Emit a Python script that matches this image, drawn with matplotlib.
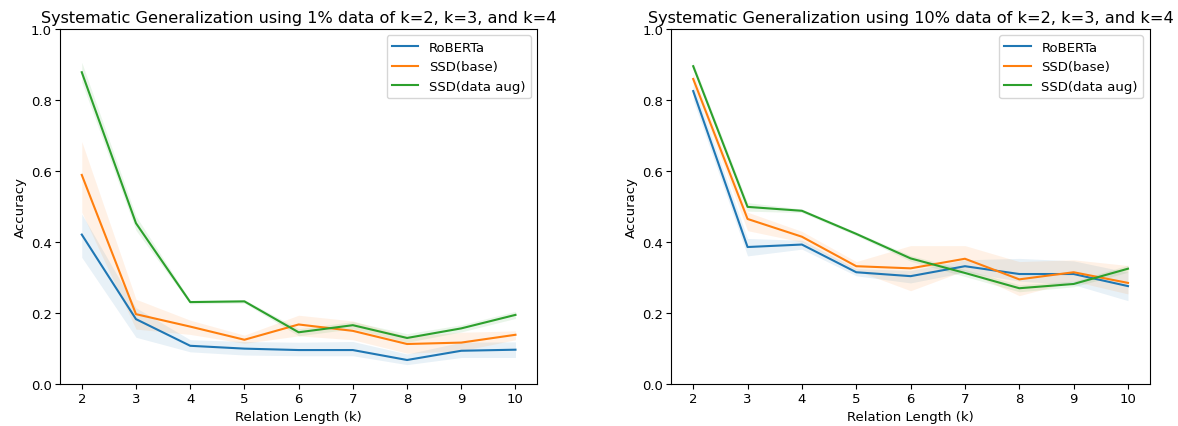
import numpy as np
import matplotlib
matplotlib.use('Agg')
import matplotlib.pyplot as plt

# Длина отношения (k)
k_values = [2, 3, 4, 5, 6, 7, 8, 9, 10]
model_names = ['RoBERTa', 'SSD(base)', 'SSD(data aug)']
colors = ['#1f77b4', '#ff7f0e', '#2ca02c']

titles = ['Systematic Generalization using 1% data of k=2, k=3, and k=4',
          'Systematic Generalization using 10% data of k=2, k=3, and k=4']

# 1% данных: среднее, нижняя и верхняя граница
roberta_1 = [0.421, 0.183, 0.108, 0.100, 0.096, 0.096, 0.068, 0.094, 0.097]
roberta_1_lo = [0.357, 0.132, 0.091, 0.082, 0.080, 0.080, 0.055, 0.075, 0.075]
roberta_1_hi = [0.479, 0.215, 0.125, 0.120, 0.118, 0.120, 0.085, 0.118, 0.119]

base_1 = [0.589, 0.197, 0.162, 0.125, 0.168, 0.150, 0.113, 0.117, 0.139]
base_1_lo = [0.484, 0.155, 0.140, 0.115, 0.136, 0.125, 0.087, 0.094, 0.125]
base_1_hi = [0.683, 0.239, 0.180, 0.138, 0.194, 0.178, 0.135, 0.146, 0.150]

aug_1 = [0.878, 0.453, 0.231, 0.233, 0.146, 0.166, 0.130, 0.157, 0.195]
aug_1_lo = [0.850, 0.433, 0.226, 0.228, 0.136, 0.156, 0.118, 0.147, 0.185]
aug_1_hi = [0.906, 0.473, 0.236, 0.238, 0.156, 0.176, 0.142, 0.167, 0.205]

# 10% данных
roberta_10 = [0.825, 0.386, 0.393, 0.315, 0.304, 0.332, 0.310, 0.310, 0.276]
roberta_10_lo = [0.800, 0.361, 0.380, 0.305, 0.285, 0.315, 0.290, 0.280, 0.235]
roberta_10_hi = [0.845, 0.410, 0.405, 0.325, 0.320, 0.350, 0.354, 0.347, 0.315]

base_10 = [0.859, 0.465, 0.415, 0.332, 0.326, 0.353, 0.295, 0.315, 0.285]
base_10_lo = [0.845, 0.432, 0.400, 0.320, 0.263, 0.320, 0.249, 0.290, 0.254]
base_10_hi = [0.875, 0.484, 0.430, 0.345, 0.390, 0.390, 0.345, 0.350, 0.334]

aug_10 = [0.895, 0.499, 0.488, 0.423, 0.354, 0.313, 0.270, 0.282, 0.325]
aug_10_lo = [0.885, 0.487, 0.483, 0.418, 0.346, 0.303, 0.260, 0.274, 0.315]
aug_10_hi = [0.905, 0.511, 0.493, 0.428, 0.362, 0.323, 0.280, 0.290, 0.335]

panels = [
    [(roberta_1, roberta_1_lo, roberta_1_hi),
     (base_1, base_1_lo, base_1_hi),
     (aug_1, aug_1_lo, aug_1_hi)],
    [(roberta_10, roberta_10_lo, roberta_10_hi),
     (base_10, base_10_lo, base_10_hi),
     (aug_10, aug_10_lo, aug_10_hi)],
]

fig = plt.figure(figsize=(11.78, 4.27), dpi=100)
axes = [fig.add_axes([0.051, 0.098, 0.405, 0.832]),
        fig.add_axes([0.570, 0.098, 0.406, 0.832])]

for ax, series, title in zip(axes, panels, titles):
    for (mean, lo, hi), name, c in zip(series, model_names, colors):
        ax.fill_between(k_values, lo, hi, color=c, alpha=0.1, linewidth=0)
        ax.plot(k_values, mean, color=c, label=name, linewidth=1.5)
    ax.set_ylim(0, 1.0)
    ax.set_xticks(k_values)
    ax.tick_params(labelsize=9.5, pad=2.5)
    ax.set_xlabel('Relation Length (k)', fontsize=9.5, labelpad=3)
    ax.set_ylabel('Accuracy', fontsize=9.5, labelpad=3)
    ax.set_title(title, fontsize=11.6, pad=5)
    ax.legend(loc='upper right', fontsize=9.5)

plt.savefig('out.png', dpi=100)
